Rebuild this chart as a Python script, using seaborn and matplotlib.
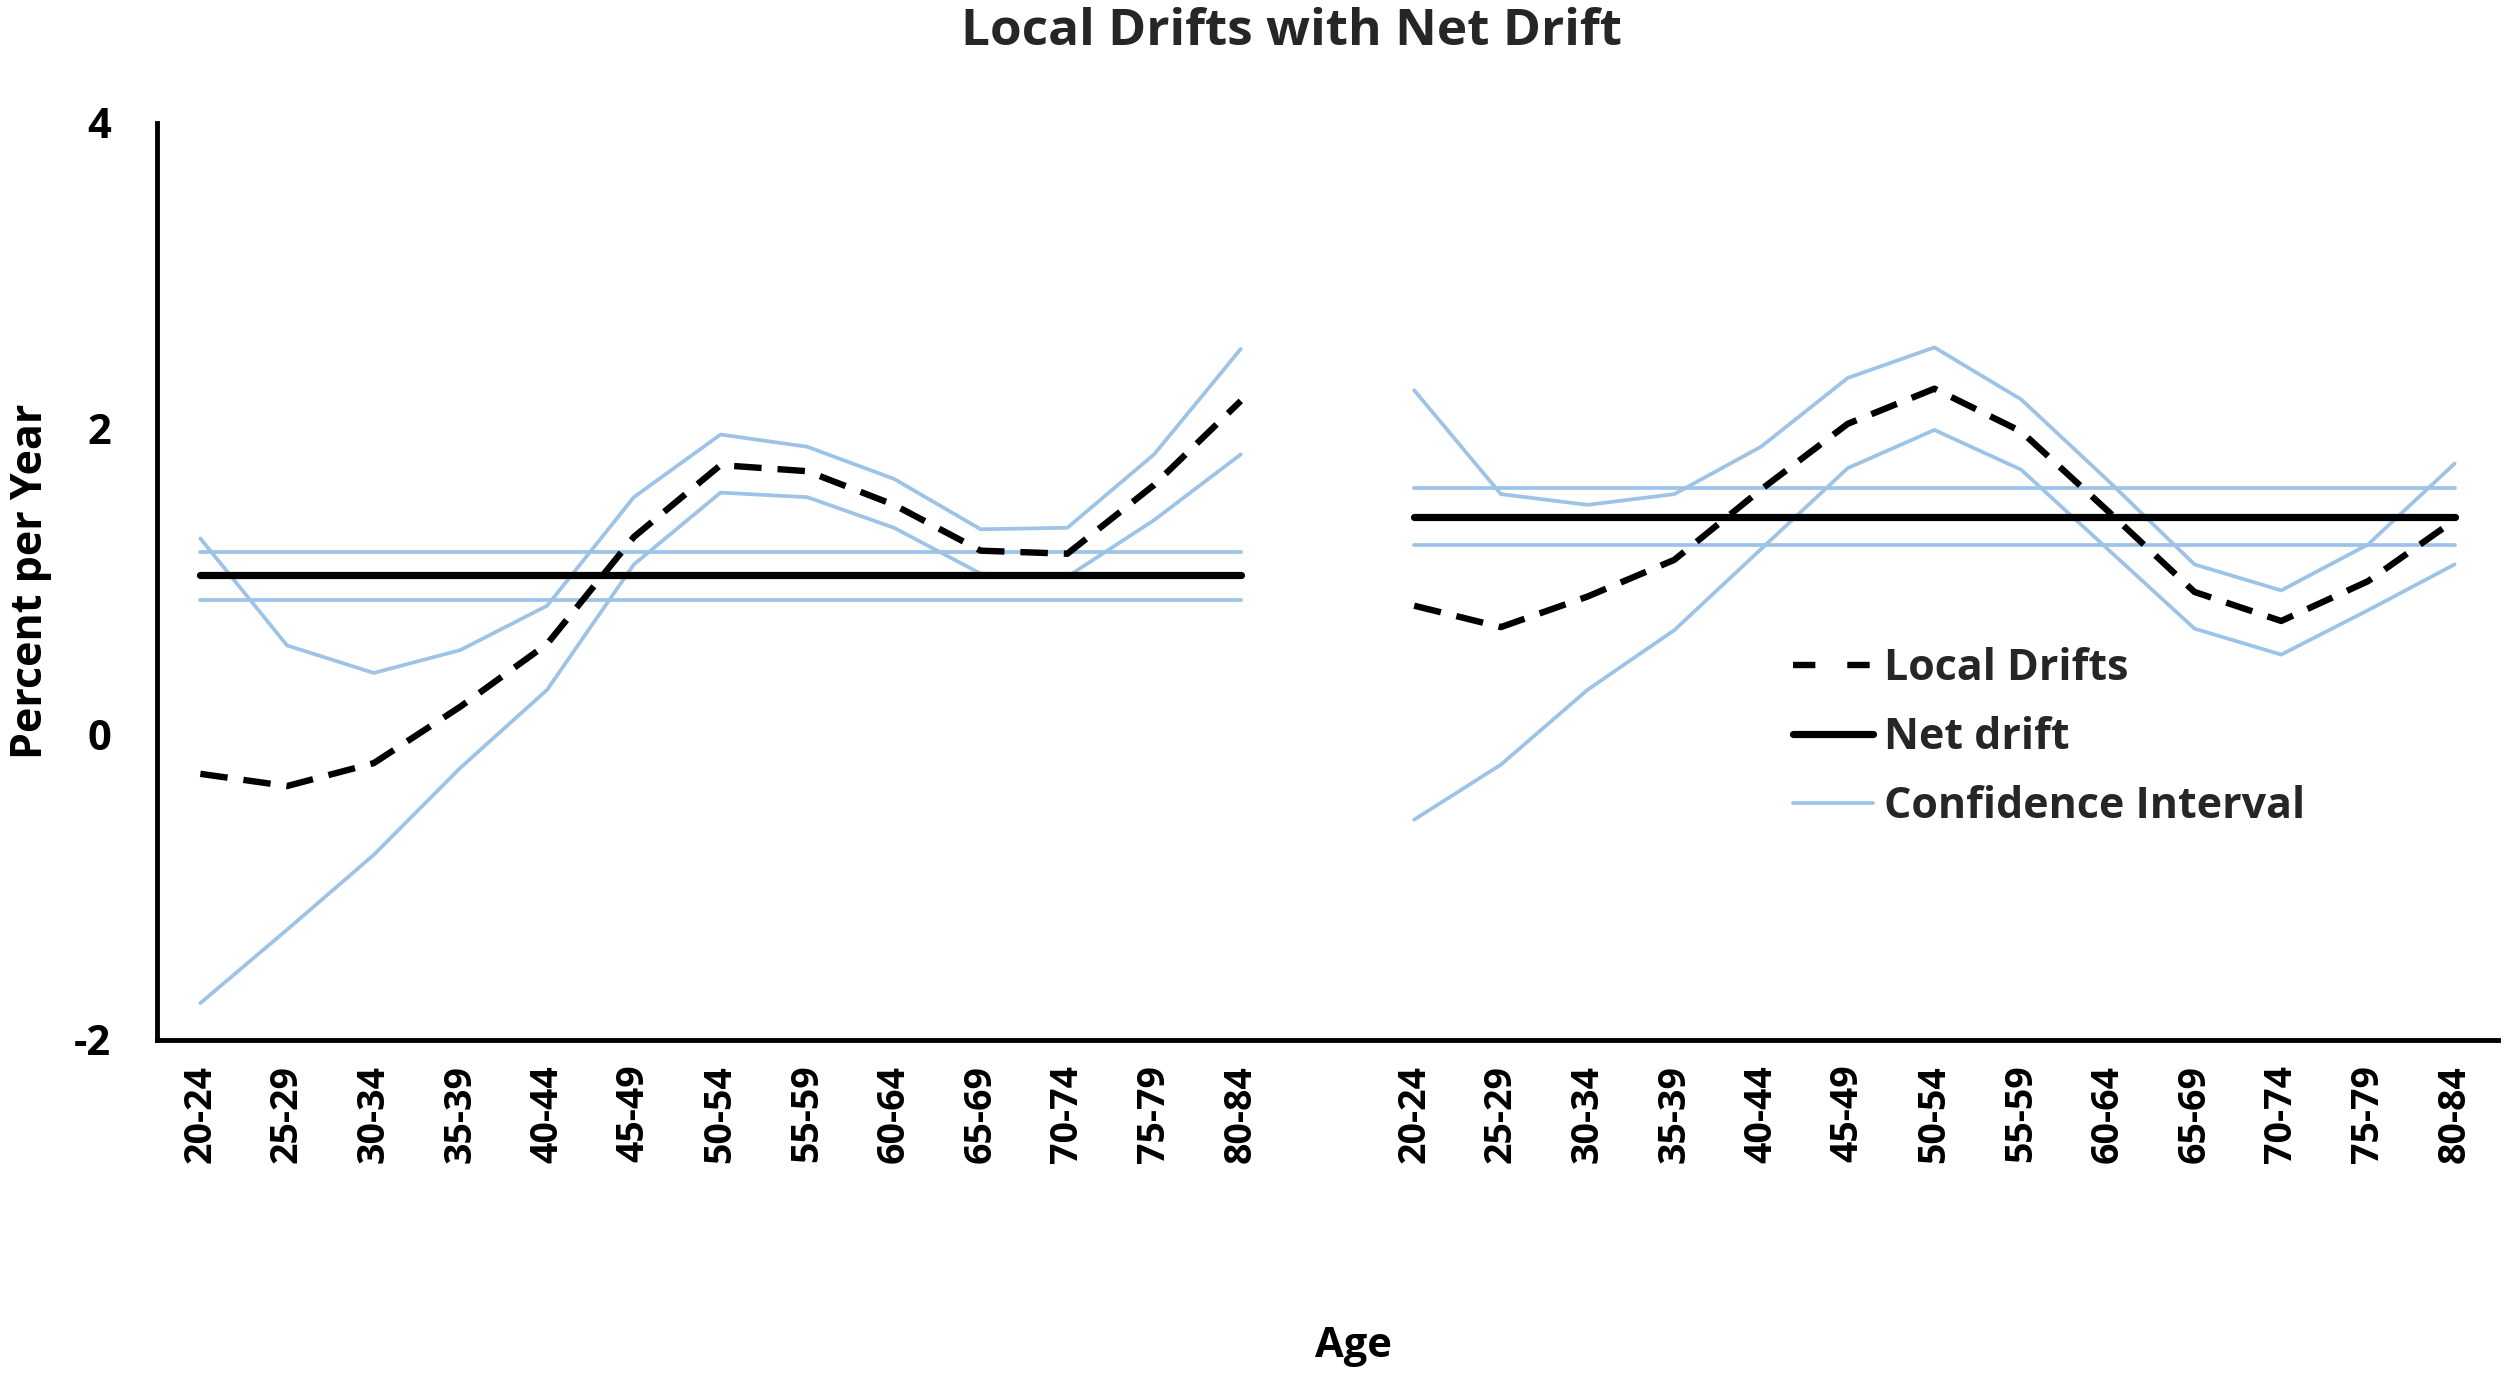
import numpy as np
import pandas as pd
import matplotlib
matplotlib.use("Agg")
import matplotlib.pyplot as plt
import seaborn as sns

# age groups shared by both panels
AGES = ["20-24", "25-29", "30-34", "35-39", "40-44", "45-49", "50-54",
        "55-59", "60-64", "65-69", "70-74", "75-79", "80-84"]

# left panel
LEFT_LOCAL = [-0.26, -0.34, -0.19, 0.18, 0.59, 1.29, 1.76, 1.72, 1.50, 1.20, 1.18, 1.63, 2.18]
LEFT_UPPER = [1.28, 0.58, 0.40, 0.55, 0.84, 1.55, 1.96, 1.88, 1.67, 1.34, 1.35, 1.83, 2.52]
LEFT_LOWER = [-1.76, -1.28, -0.79, -0.22, 0.29, 1.11, 1.58, 1.55, 1.35, 1.05, 1.03, 1.40, 1.83]
LEFT_NET = 1.04
LEFT_NET_CI = (0.875, 1.19)

# right panel
RIGHT_LOCAL = [0.84, 0.70, 0.90, 1.14, 1.60, 2.03, 2.26, 1.98, 1.46, 0.93, 0.74, 1.00, 1.40]
RIGHT_UPPER = [2.25, 1.57, 1.50, 1.57, 1.88, 2.33, 2.53, 2.19, 1.66, 1.11, 0.94, 1.24, 1.77]
RIGHT_LOWER = [-0.56, -0.20, 0.29, 0.68, 1.21, 1.74, 1.99, 1.73, 1.21, 0.69, 0.52, 0.81, 1.11]
RIGHT_NET = 1.42
RIGHT_NET_CI = (1.24, 1.61)

BLUE = "#9DC3E6"
FONT = ["Open Sans", "DejaVu Sans"]

sns.set_theme(style="white")
plt.rcParams["font.family"] = FONT
plt.rcParams["font.weight"] = "bold"

LW_LOCAL, LW_NET, LW_CI = 4.6, 5.2, 2.7

panels = [
    (0, LEFT_LOCAL, LEFT_UPPER, LEFT_LOWER, LEFT_NET, LEFT_NET_CI),
    (len(AGES) + 1, RIGHT_LOCAL, RIGHT_UPPER, RIGHT_LOWER, RIGHT_NET, RIGHT_NET_CI),
]

fig = plt.figure(figsize=(25.08, 13.79), dpi=100)
ax = fig.add_axes([0.0626, 0.246, 0.9334, 0.665])

for offset, local, upper, lower, net, net_ci in panels:
    df = pd.DataFrame({
        "pos": np.arange(len(AGES)) + offset,
        "local": local,
        "upper": upper,
        "lower": lower,
        "net": [net] * len(AGES),
        "ci_lo": [net_ci[0]] * len(AGES),
        "ci_hi": [net_ci[1]] * len(AGES),
    })
    for col in ["upper", "lower", "ci_lo", "ci_hi"]:
        sns.lineplot(data=df, x="pos", y=col, ax=ax, color=BLUE, linewidth=LW_CI)
    sns.lineplot(data=df, x="pos", y="net", ax=ax, color="black", linewidth=LW_NET)
    sns.lineplot(data=df, x="pos", y="local", ax=ax, color="black", linewidth=LW_LOCAL)
    ax.lines[-1].set_dashes([4.3, 2.5])

h_local = plt.Line2D([], [], color="black", linewidth=LW_LOCAL, dashes=[3.5, 5.0])
h_net = plt.Line2D([], [], color="black", linewidth=LW_NET)
h_ci = plt.Line2D([], [], color=BLUE, linewidth=LW_CI)

labels = AGES + [""] + AGES
ax.set_xticks(range(len(labels)))
ax.set_xticklabels(labels, rotation=90, fontsize=27, fontweight="bold")
ax.set_xlim(-0.5, len(labels) - 0.5)
ax.set_ylim(-2, 4)
ax.set_yticks([-2, 0, 2, 4])
ax.set_yticklabels(["-2", "0", "2", "4"], fontsize=30, fontweight="bold")

ax.tick_params(axis="y", direction="in", length=10, width=3.5, pad=33, colors="black")
ax.tick_params(axis="x", length=0, pad=18, colors="black")

for side in ["top", "right"]:
    ax.spines[side].set_visible(False)
for side in ["left", "bottom"]:
    ax.spines[side].set_color("black")
    ax.spines[side].set_linewidth(3.5)

ax.set_ylabel("Percent per Year", fontsize=31, fontweight="bold", color="black")
ax.yaxis.set_label_coords(-0.054, 0.5)
ax.yaxis.label.set_va("center")
ax.set_xlabel("Age", fontsize=30, fontweight="bold", color="black")
ax.xaxis.set_label_coords(0.511, -0.335)
ax.xaxis.label.set_va("center")

fig.suptitle("Local Drifts with Net Drift", x=0.515, y=0.977, va="center",
             fontsize=37, fontweight="bold")

ax.legend([h_local, h_net, h_ci], ["Local Drifts", "Net drift", "Confidence Interval"],
          loc="upper left", bbox_to_anchor=(0.715, 0.531), bbox_transform=fig.transFigure,
          frameon=False, handlelength=1.86, handletextpad=0.25,
          labelspacing=0.61, borderpad=0, borderaxespad=0,
          prop={"family": FONT, "weight": "bold", "size": 31})

fig.savefig("out.png", dpi=100, facecolor="white")
